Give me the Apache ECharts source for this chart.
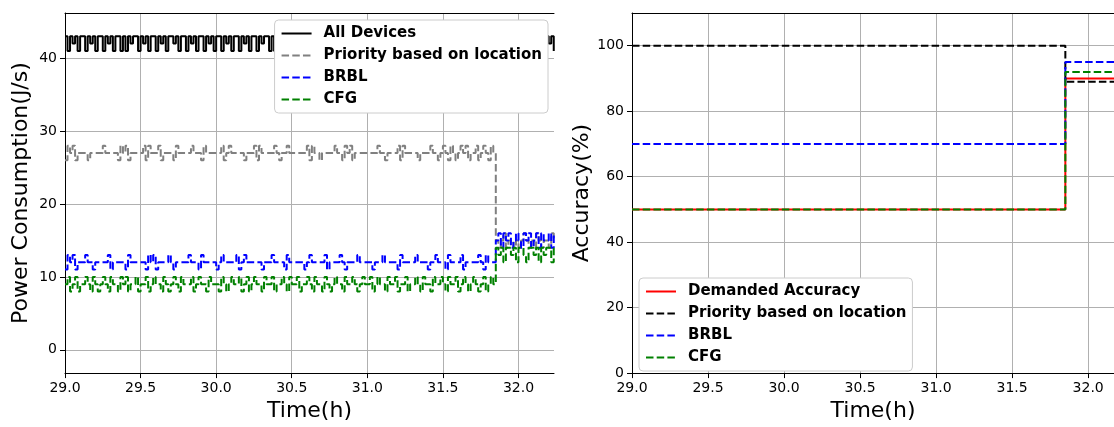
<!DOCTYPE html>
<html>
<head>
<meta charset="utf-8">
<script src="https://cdn.jsdelivr.net/npm/echarts@6/dist/echarts.min.js"></script>
<style>
  html, body { margin: 0; padding: 0; background: #fff; }
  #chart { width: 1114px; height: 427px; }
</style>
</head>
<body>
<div id="chart"></div>
<script>
// Left panel: one power sample per minute, starting at 29.0 h
const startHour = 29.0
const samplesPerHour = 60

const allDevices = [
  43, 41, 43, 42, 43, 41, 43, 43, 41, 43, 42, 43, 41, 43, 43,
  41, 43, 42, 43, 41, 43, 43, 41, 43, 41, 43, 42, 43, 43, 41,
  43, 42, 43, 41, 43, 43, 41, 43, 42, 43, 41, 43, 43, 42, 43,
  41, 43, 43, 41, 43, 42, 43, 41, 43, 43, 41, 43, 42, 43, 41,
  43, 43, 41, 43, 42, 43, 41, 43, 43, 41, 43, 42, 43, 41, 43,
  43, 41, 43, 42, 43, 43, 41, 43, 41, 43, 43, 42, 43, 41, 43,
  42, 43, 41, 43, 43, 41, 43, 42, 43, 41, 43, 43, 41, 43, 42,
  43, 41, 43, 43, 42, 43, 41, 43, 41, 43, 42, 43, 43, 41, 43,
  43, 42, 43, 41, 43, 43, 41, 43, 42, 43, 41, 43, 41, 43, 43,
  41, 43, 42, 43, 41, 43, 43, 41, 43, 42, 43, 43, 41, 43, 41,
  43, 43, 41, 43, 42, 43, 41, 43, 43, 42, 43, 41, 43, 43, 41,
  43, 42, 43, 41, 43, 43, 41, 43, 42, 43, 41, 43, 43, 42, 43,
  41, 43, 43, 42, 43, 41, 43, 42, 43, 43, 41, 43, 42, 43, 41
]

const priorityPower = [
  26, 28, 27, 28, 26, 27, 27, 27, 27, 26, 27, 27, 27, 27, 27,
  28, 27, 27, 27, 27, 27, 26, 28, 27, 28, 26, 27, 27, 27, 27,
  27, 28, 26, 28, 27, 27, 27, 28, 26, 27, 27, 27, 27, 26, 28,
  27, 27, 27, 27, 27, 28, 27, 27, 27, 26, 28, 27, 27, 27, 27,
  27, 27, 28, 26, 27, 28, 27, 27, 27, 27, 27, 26, 27, 27, 27,
  28, 26, 28, 27, 27, 27, 27, 27, 28, 27, 26, 27, 27, 28, 27,
  27, 27, 27, 27, 27, 27, 28, 26, 28, 27, 27, 26, 27, 27, 27,
  27, 27, 28, 27, 27, 26, 28, 27, 28, 26, 27, 27, 27, 27, 27,
  27, 27, 27, 27, 28, 27, 27, 26, 27, 27, 27, 27, 28, 26, 28,
  27, 27, 27, 27, 27, 26, 27, 27, 27, 27, 28, 27, 27, 26, 27,
  28, 27, 26, 28, 27, 26, 27, 28, 27, 28, 26, 27, 27, 28, 26,
  27, 28, 27, 26, 28, 27, 15, 14, 15, 16, 14, 15, 15, 14, 15,
  14, 15, 16, 15, 14, 15, 14, 16, 15, 14, 15, 15, 14, 16, 15
]

const brblPower = [
  11, 13, 12, 13, 11, 12, 12, 12, 13, 12, 12, 11, 12, 12, 12,
  12, 12, 13, 11, 12, 12, 12, 12, 12, 11, 13, 12, 12, 12, 12,
  12, 12, 11, 13, 12, 13, 11, 12, 12, 12, 12, 13, 12, 11, 12,
  12, 12, 12, 12, 13, 12, 12, 12, 11, 13, 12, 12, 12, 12, 12,
  11, 12, 13, 12, 12, 12, 12, 12, 13, 11, 12, 13, 12, 12, 12,
  12, 12, 12, 11, 12, 12, 12, 13, 12, 12, 12, 12, 11, 13, 12,
  12, 12, 12, 12, 12, 11, 12, 13, 12, 12, 12, 12, 12, 13, 11,
  12, 12, 12, 12, 13, 12, 11, 12, 12, 12, 12, 13, 12, 12, 12,
  12, 12, 11, 12, 12, 12, 13, 12, 12, 12, 12, 12, 11, 13, 12,
  12, 12, 12, 12, 13, 12, 12, 12, 12, 11, 12, 12, 13, 12, 12,
  12, 11, 13, 12, 12, 12, 12, 13, 11, 12, 12, 12, 12, 12, 13,
  12, 11, 13, 12, 12, 12, 15, 16, 14, 16, 15, 16, 14, 15, 16,
  15, 14, 16, 15, 16, 14, 15, 16, 14, 16, 15, 15, 16, 14, 16
]

const cfgPower = [
  9, 10, 8, 9, 10, 8, 9, 9, 10, 9, 8, 10, 9, 8, 9,
  10, 9, 8, 10, 9, 9, 8, 10, 9, 10, 8, 9, 9, 10, 8,
  9, 9, 10, 8, 9, 10, 9, 9, 8, 10, 9, 8, 9, 10, 9,
  8, 10, 9, 9, 9, 10, 8, 9, 10, 9, 9, 8, 10, 9, 9,
  9, 8, 10, 9, 8, 9, 10, 9, 9, 10, 8, 9, 10, 8, 9,
  10, 9, 9, 8, 10, 9, 9, 10, 8, 9, 9, 10, 9, 8, 10,
  9, 9, 10, 8, 9, 9, 10, 9, 8, 10, 9, 9, 8, 10, 9,
  8, 9, 10, 9, 9, 8, 10, 9, 9, 10, 9, 8, 9, 10, 9,
  9, 10, 8, 9, 10, 9, 9, 8, 10, 9, 9, 10, 8, 9, 9,
  10, 8, 9, 9, 10, 9, 8, 10, 9, 9, 8, 10, 9, 9, 10,
  9, 8, 10, 9, 9, 10, 8, 9, 10, 9, 8, 9, 10, 9, 8,
  9, 10, 8, 9, 10, 9, 14, 13, 14, 12, 14, 14, 13, 14, 12,
  14, 14, 13, 12, 14, 14, 13, 14, 12, 14, 13, 14, 14, 12, 14
]

// Right panel: accuracy before / after the switch
const accTimes = [29.0, 31.85, 32.17]
const accDemanded = [50, 90]
const accPriority = [100, 89]
const accBrbl = [70, 95]
const accCfg = [50, 92]

const hourTicks = [29.0, 29.5, 30.0, 30.5, 31.0, 31.5, 32.0]
const powerTicks = [0, 10, 20, 30, 40]
const accuracyTicks = [0, 20, 40, 60, 80, 100]

const fontFamily = 'DejaVu Sans'
const dash = [7.5, 3.2]

const toPoints = (values) => values.map((v, i) => [startHour + i / samplesPerHour, v])
const toSteps = (values) => [
  [accTimes[0], values[0]],
  [accTimes[1], values[0]],
  [accTimes[1], values[1]],
  [accTimes[2], values[1]],
]

const chart = echarts.init(document.getElementById('chart'))

const bottomAxis = (gridIndex, max) => ({
  type: 'value',
  gridIndex,
  min: 29,
  max,
  axisLine: { show: true, onZero: false, lineStyle: { color: '#000', width: 1 } },
  axisTick: { show: true, length: 5, customValues: hourTicks, lineStyle: { color: '#000' } },
  axisLabel: {
    customValues: hourTicks,
    formatter: (v) => v.toFixed(1),
    color: '#000',
    fontSize: 14,
    fontFamily,
    margin: 8,
  },
  splitLine: { show: true, lineStyle: { color: '#b0b0b0', width: 1 } },
  name: 'Time(h)',
  nameLocation: 'middle',
  nameGap: 24,
  nameTextStyle: { fontSize: 22, fontFamily, color: '#000' },
})

const topAxis = (gridIndex, max) => ({
  type: 'value',
  gridIndex,
  position: 'top',
  min: 29,
  max,
  axisLine: { show: true, onZero: false, lineStyle: { color: '#000', width: 1 } },
  axisTick: { show: false },
  axisLabel: { show: false },
  splitLine: { show: false },
})

const leftAxis = (gridIndex, min, max, ticks, name, nameGap) => ({
  type: 'value',
  gridIndex,
  min,
  max,
  axisLine: { show: true, onZero: false, lineStyle: { color: '#000', width: 1 } },
  axisTick: { show: true, length: 5, customValues: ticks, lineStyle: { color: '#000' } },
  axisLabel: { customValues: ticks, color: '#000', fontSize: 14, fontFamily, margin: 8 },
  splitLine: { show: true, lineStyle: { color: '#b0b0b0', width: 1 } },
  name,
  nameLocation: 'middle',
  nameGap,
  nameTextStyle: { fontSize: 22, fontFamily, color: '#000' },
})

const legendBase = {
  orient: 'vertical',
  itemWidth: 30,
  itemHeight: 14,
  itemGap: 7,
  padding: [6, 6, 6, 6],
  backgroundColor: '#fff',
  borderColor: '#cccccc',
  borderWidth: 1,
  borderRadius: 4,
  itemStyle: { opacity: 0 },
  formatter: (name) => name.trim(),
  textStyle: { fontFamily, fontSize: 15, fontWeight: 'bold', color: '#000', padding: [0, 0, 0, 7] },
}

const powerLine = (name, values, color, type) => ({
  name,
  type: 'line',
  xAxisIndex: 0,
  yAxisIndex: 0,
  step: 'end',
  symbol: 'none',
  data: toPoints(values),
  lineStyle: { color, width: 2, type },
  itemStyle: { color },
})

const accLine = (name, values, color, type) => ({
  name,
  type: 'line',
  xAxisIndex: 2,
  yAxisIndex: 1,
  symbol: 'none',
  data: toSteps(values),
  lineStyle: { color, width: 2, type },
  itemStyle: { color },
})

chart.setOption({
  animation: false,
  grid: [
    { left: 65, top: 13, width: 489, height: 366 },
    { left: 632, top: 13, right: 0, height: 366 },
  ],
  xAxis: [bottomAxis(0, 32.235), topAxis(0, 32.235), bottomAxis(1, 32.17), topAxis(1, 32.17)],
  yAxis: [
    leftAxis(0, -3.2, 46.2, powerTicks, 'Power Consumption(J/s)', 33),
    leftAxis(1, 0, 110, accuracyTicks, 'Accuracy(%)', 38),
  ],
  legend: [
    {
      ...legendBase,
      right: 566,
      top: 20,
      data: ['All Devices', 'Priority based on location', 'BRBL', 'CFG'],
    },
    {
      ...legendBase,
      left: 639,
      top: 278,
      data: ['Demanded Accuracy', 'Priority based on location ', 'BRBL ', 'CFG '],
    },
  ],
  series: [
    powerLine('All Devices', allDevices, '#000000', 'solid'),
    powerLine('Priority based on location', priorityPower, '#808080', dash),
    powerLine('BRBL', brblPower, '#0000ff', dash),
    powerLine('CFG', cfgPower, '#008000', dash),
    accLine('Demanded Accuracy', accDemanded, '#ff0000', 'solid'),
    accLine('Priority based on location ', accPriority, '#000000', dash),
    accLine('BRBL ', accBrbl, '#0000ff', dash),
    accLine('CFG ', accCfg, '#008000', dash),
  ],
})

window.addEventListener('resize', () => chart.resize())
</script>
</body>
</html>
